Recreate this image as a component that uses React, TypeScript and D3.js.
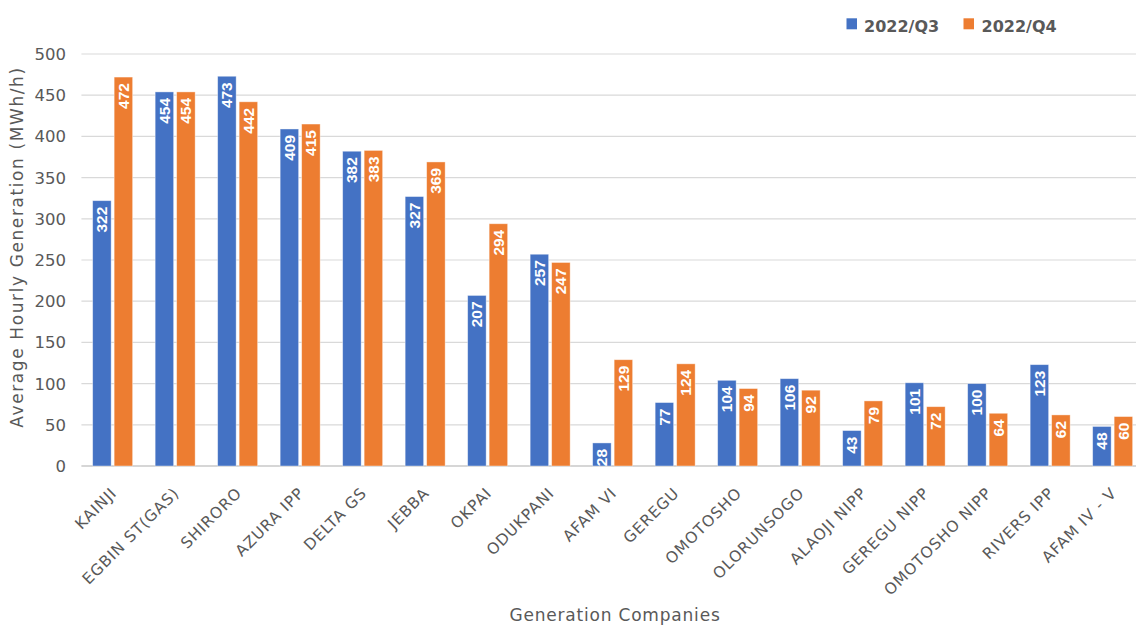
import React from "react";
import * as d3 from "d3";

const categories = ["KAINJI","EGBIN ST(GAS)","SHIRORO","AZURA IPP","DELTA GS","JEBBA","OKPAI","ODUKPANI","AFAM VI","GEREGU","OMOTOSHO","OLORUNSOGO","ALAOJI NIPP","GEREGU NIPP","OMOTOSHO NIPP","RIVERS IPP","AFAM IV - V"];
const q3 = [322,454,473,409,382,327,207,257,28,77,104,106,43,101,100,123,48];
const q4 = [472,454,442,415,383,369,294,247,129,124,94,92,79,72,64,62,60];
const seriesNames = ["2022/Q3","2022/Q4"];
const colors = ["#4472C4","#ED7D31"];
const yTicks = [0,50,100,150,200,250,300,350,400,450,500];

export default function App() {
  const W = 1136, H = 625;
  const left = 81.4, step = 62.5, top = 54, bottom = 466;
  const right = left + step * categories.length;
  const x = d3.scaleBand<string>().domain(categories).range([left, right]).paddingInner(0).paddingOuter(0);
  const y = d3.scaleLinear().domain([0, 500]).range([bottom, top]);
  const bw = 18.5, gap = 3;
  const font = "'DejaVu Sans', sans-serif";
  const series = [q3, q4];
  return (
    <svg width={W} height={H} style={{ position: "absolute", left: 0, top: 0, background: "#fff" }}>
      {yTicks.map(t => (
        <g key={t}>
          <line x1={left} x2={W} y1={y(t)} y2={y(t)} stroke={t === 0 ? "#c8c8c8" : "#d9d9d9"} strokeWidth={t === 0 ? 1.5 : 1.2} />
          <text x={66} y={y(t)} dy="0.36em" textAnchor="end" fontFamily={font} fontSize={16.5} fill="#595959">{t}</text>
        </g>
      ))}
      {series.map((vals, si) => (
        <g key={si}>
          {categories.map((c, i) => {
            const cx = x(c)! + x.bandwidth() / 2;
            const bx = si === 0 ? cx - gap / 2 - bw : cx + gap / 2;
            const yt = y(vals[i]);
            return (
              <g key={c}>
                <rect x={bx} y={yt} width={bw} height={bottom - yt} fill={colors[si]} stroke="#ffffff" strokeOpacity={0.5} strokeWidth={0.8} />
                <text transform={`translate(${bx + bw / 2},${yt + 6}) rotate(-90)`} dy="0.36em" textAnchor="end" fontFamily="'Liberation Sans', Arial, sans-serif" fontWeight="bold" fontSize={15.5} fill="#ffffff">{vals[i]}</text>
              </g>
            );
          })}
        </g>
      ))}
      {categories.map(c => {
        const cx = x(c)! + x.bandwidth() / 2;
        return (
          <text key={c} transform={`translate(${cx + 5},${494}) rotate(-45)`} textAnchor="end" fontFamily={font} fontSize={15.5} letterSpacing={0.9} fill="#595959">{c}</text>
        );
      })}
      <text transform={`translate(23,${247}) rotate(-90)`} textAnchor="middle" fontFamily={font} fontSize={17} letterSpacing={1.6} fill="#595959">Average Hourly Generation (MWh/h)</text>
      <text x={615} y={621} textAnchor="middle" fontFamily={font} fontSize={17} letterSpacing={0.8} fill="#595959">Generation Companies</text>
      {seriesNames.map((s, i) => (
        <g key={s}>
          <rect x={i === 0 ? 846.5 : 963.5} y={18.3} width={10.5} height={11} fill={colors[i]} />
          <text x={i === 0 ? 864 : 981.5} y={31.5} fontFamily={font} fontWeight="bold" fontSize={16} fill="#595959">{s}</text>
        </g>
      ))}
    </svg>
  );
}
